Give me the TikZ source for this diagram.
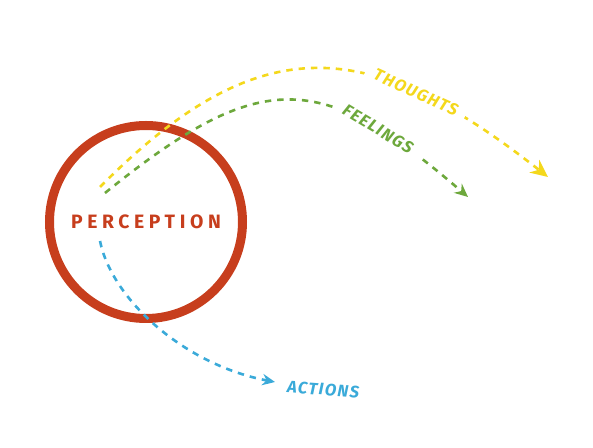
\documentclass[tikz,border=0pt]{standalone}
\usepackage{fontspec}
\setmainfont{Fira Sans}
\newfontfamily\perfont{Fira Sans}[LetterSpace=24]
\newfontfamily\arcfont{Fira Sans}[LetterSpace=8]
\usetikzlibrary{arrows.meta}
\usepackage{xcolor}
\definecolor{r1}{HTML}{C73E1D}
\definecolor{y1}{HTML}{F4D81C}
\definecolor{g1}{HTML}{6DA83C}
\definecolor{b1}{HTML}{3AAAD9}

\tikzset{
	arc/.style={line width=1.95pt,dash pattern=on 4.8pt off 4.5pt},
	arclabel/.style={font=\arcfont\bfseries\itshape\fontsize{12.5}{13}\selectfont,inner xsep=7pt,inner ysep=2pt},
}

\begin{document}
\begin{tikzpicture}[x=0.75pt,y=-0.75pt]
	\useasboundingbox (0,0) rectangle (593,448);

	\node [circle,draw=r1,line width=6.75pt,minimum size=144.75pt,inner sep=0pt,text=r1,
		font=\perfont\bfseries\fontsize{14.5}{14.5}\selectfont] (perc) at (146,222) {PERCEPTION};

	\coordinate (tS) at (100,187);
	\coordinate (tE) at (548,177);
	\coordinate (fS) at (105,193);
	\coordinate (fE) at (468,197);
	\coordinate (aS) at (100,241);
	\coordinate (aE) at (275,382);

	% thoughts
	\draw [arc,y1,-{Stealth[length=13pt,width=12pt]}] (tS) .. controls (260,26) and (369,36) .. (tE)
		node [arclabel,pos=0.73,sloped,fill=white,text=y1] (thoughts) {THOUGHTS};
	% feelings
	\draw [arc,g1,-{Stealth[length=10pt,width=9pt]}] (fS) .. controls (261,67) and (321,70) .. (fE)
		node [arclabel,pos=0.77,sloped,fill=white,text=g1] (feelings) {FEELINGS};
	% actions
	\draw [arc,b1,-{Stealth[length=9.5pt,width=8.5pt]}] (aS) .. controls (112,300) and (185,365) .. (aE);
	\node [arclabel,anchor=west,rotate=-4,text=b1,inner xsep=0pt] (actions) at (287,387) {ACTIONS};
\end{tikzpicture}
\end{document}
